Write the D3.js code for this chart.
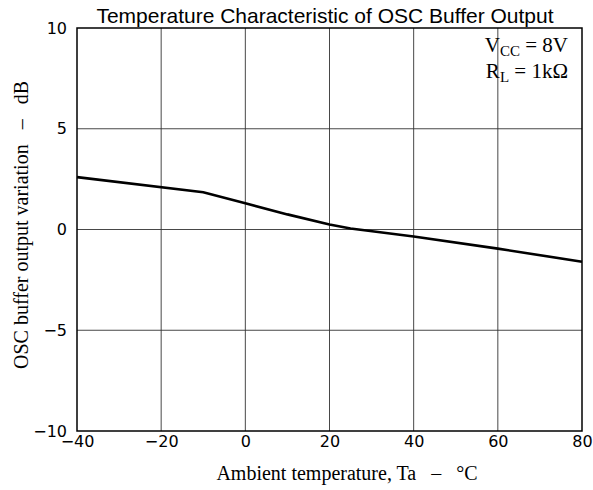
<!DOCTYPE html>
<html><head><meta charset="utf-8">
<script src="https://cdn.jsdelivr.net/npm/d3@7"></script>
<style>body{margin:0;background:#fff} text{white-space:pre}</style>
</head><body>
<svg id="c" width="593" height="490"></svg>
<script>
const temps = [-40, -10, 0, 10, 20, 25, 40, 60, 80];
const variation = [2.6, 1.85, 1.3, 0.75, 0.25, 0.05, -0.35, -0.95, -1.6];
const xTicks = [-40, -20, 0, 20, 40, 60, 80];
const yTicks = [-10, -5, 0, 5, 10];

const svg = d3.select("#c");
const L = 77, R = 582, T = 28, B = 431;
const x = d3.scaleLinear().domain([-40, 80]).range([L, R]);
const y = d3.scaleLinear().domain([-10, 10]).range([B, T]);

// grid
svg.append("g").selectAll("line").data(xTicks.slice(1, -1)).join("line")
  .attr("x1", d => x(d)).attr("x2", d => x(d)).attr("y1", T).attr("y2", B)
  .attr("stroke", "#333").attr("stroke-width", 0.9);
svg.append("g").selectAll("line").data(yTicks.slice(1, -1)).join("line")
  .attr("y1", d => y(d)).attr("y2", d => y(d)).attr("x1", L).attr("x2", R)
  .attr("stroke", "#333").attr("stroke-width", 0.9);

svg.append("rect").attr("x", L).attr("y", T).attr("width", R - L).attr("height", B - T)
  .attr("fill", "none").attr("stroke", "#000").attr("stroke-width", 1.5);

// axes labels
const xa = d3.axisBottom(x).tickValues(xTicks).tickSize(0).tickPadding(5)
  .tickFormat(d => d < 0 ? "\u2212" + Math.abs(d) : d);
const gx = svg.append("g").attr("transform", `translate(0,${B})`).call(xa);
gx.select(".domain").remove();
gx.selectAll("text").attr("font-family", "DejaVu Sans, sans-serif").attr("font-size", 16).attr("fill", "#000");

const ya = d3.axisLeft(y).tickValues(yTicks).tickSize(0).tickPadding(10)
  .tickFormat(d => d < 0 ? "\u2212" + Math.abs(d) : d);
const gy = svg.append("g").attr("transform", `translate(${L},0)`).call(ya);
gy.select(".domain").remove();
gy.selectAll("text").attr("font-family", "DejaVu Sans, sans-serif").attr("font-size", 16).attr("fill", "#000");

// curve
svg.append("path").datum(temps.map((t, i) => [t, variation[i]]))
  .attr("d", d3.line().x(d => x(d[0])).y(d => y(d[1])))
  .attr("fill", "none").attr("stroke", "#000").attr("stroke-width", 2.6);

// title
svg.append("text").attr("x", 325).attr("y", 23).attr("text-anchor", "middle")
  .attr("font-family", "Liberation Sans, Arial, sans-serif").attr("font-size", 21)
  .text("Temperature Characteristic of OSC Buffer Output");

// axis titles
svg.append("text").attr("x", 347).attr("y", 480).attr("text-anchor", "middle")
  .attr("font-family", "Liberation Serif, serif").attr("font-size", 20)
  .text("Ambient temperature, Ta   \u2013   \u00B0C");
svg.append("text").attr("transform", `translate(28,225) rotate(-90)`).attr("text-anchor", "middle")
  .attr("font-family", "Liberation Serif, serif").attr("font-size", 20)
  .text("OSC buffer output variation   \u2013   dB");

// annotation
const ann = svg.append("g").attr("font-family", "Liberation Serif, serif").attr("font-size", 21);
const t1 = ann.append("text").attr("x", 568).attr("y", 52).attr("text-anchor", "end");
t1.append("tspan").text("V");
t1.append("tspan").attr("font-size", 15).attr("dy", 4).text("CC");
t1.append("tspan").attr("dy", -4).text(" = 8V");
const t2 = ann.append("text").attr("x", 568).attr("y", 78).attr("text-anchor", "end");
t2.append("tspan").text("R");
t2.append("tspan").attr("font-size", 15).attr("dy", 4).text("L");
t2.append("tspan").attr("dy", -4).text(" = 1k\u03A9");
</script>
</body></html>
